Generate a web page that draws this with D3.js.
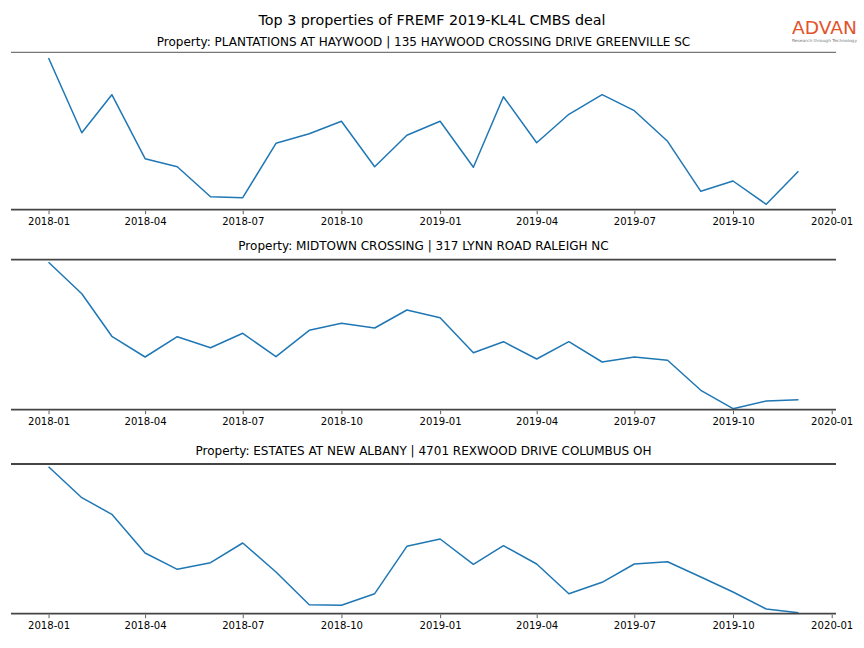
<!DOCTYPE html>
<html>
<head>
<meta charset="utf-8">
<script src="https://cdn.jsdelivr.net/npm/d3@7"></script>
<style>
  body { margin: 0; background: #fff; }
  svg { display: block; }
  text { font-family: "DejaVu Sans", sans-serif; }
</style>
</head>
<body>
<svg id="chart" width="864" height="648"></svg>
<script>
// ---- data ----
const months = ["2018-01","2018-02","2018-03","2018-04","2018-05","2018-06","2018-07","2018-08","2018-09","2018-10","2018-11","2018-12",
                "2019-01","2019-02","2019-03","2019-04","2019-05","2019-06","2019-07","2019-08","2019-09","2019-10","2019-11","2019-12"];
const titles = [
  "Property: PLANTATIONS AT HAYWOOD | 135 HAYWOOD CROSSING DRIVE GREENVILLE SC",
  "Property: MIDTOWN CROSSING | 317 LYNN ROAD RALEIGH NC",
  "Property: ESTATES AT NEW ALBANY | 4701 REXWOOD DRIVE COLUMBUS OH"
];
const seriesHaywood = [151.7, 77, 115, 51, 43, 13, 12, 66.4, 76, 88.4, 43, 74.4, 88.4, 42.4, 113, 67, 95.4, 115, 99, 68.4, 18.4, 28.7, 5.4, 38.4];
const seriesMidtown = [147.4, 116, 73.4, 52.7, 73, 62, 76.4, 53, 79.4, 86.4, 81.7, 99.7, 92, 57, 68, 50.7, 68, 47.7, 52.7, 49.4, 19.4, 1, 8.7, 10];
const seriesAlbany  = [147, 116, 99.4, 60.7, 44.4, 51, 70.7, 41.7, 9, 8.4, 20, 67.4, 74.7, 49.4, 68, 49.7, 20, 31.4, 49.7, 52, 36.7, 21.7, 4.7, 1];
const yMax = [157.4, 150, 149.7];
const mainTitle = "Top 3 properties of FREMF 2019-KL4L CMBS deal";

// ---- layout ----
const svg = d3.select("#chart");
const parse = d3.timeParse("%Y-%m");
const dates = months.map(parse);
const panels = [
  {top: 52.3, bottom: 209.7, values: seriesHaywood, title: titles[0], topW: 1, topC: "#555", tpad: 6},
  {top: 259.7, bottom: 409.7, values: seriesMidtown, title: titles[1], topW: 1.8, topC: "#444", tpad: 9.5},
  {top: 464, bottom: 613.7, values: seriesAlbany, title: titles[2], topW: 1.8, topC: "#444", tpad: 9.5}
];
const left = 11, right = 836;

const x = d3.scaleTime()
  .domain([d3.timeDay.offset(dates[0], -35), d3.timeDay.offset(dates[dates.length - 1], 35)])
  .range([left, right]);

svg.append("text")
  .attr("x", 432).attr("y", 24.5)
  .attr("text-anchor", "middle")
  .attr("font-size", 14.3)
  .attr("fill", "#000")
  .text(mainTitle);

panels.forEach((p, i) => {
  const y = d3.scaleLinear().domain([0, yMax[i]]).range([p.bottom, p.top]);
  const g = svg.append("g");

  g.append("text")
    .attr("x", (left + right) / 2).attr("y", p.top - p.tpad)
    .attr("text-anchor", "middle")
    .attr("font-size", 12)
    .attr("fill", "#000")
    .text(p.title);

  // x axis
  const axis = d3.axisBottom(x)
    .ticks(d3.timeMonth.every(3))
    .tickFormat(d3.timeFormat("%Y-%m"))
    .tickSizeInner(3.5).tickSizeOuter(0).tickPadding(3.5);
  const ag = g.append("g").attr("transform", `translate(0,${p.bottom + 1})`).call(axis);
  ag.select(".domain").remove();
  ag.selectAll(".tick line").attr("stroke", "#333").attr("stroke-width", 0.8);
  ag.selectAll(".tick text").attr("font-size", 10.1).attr("fill", "#000")
    .attr("font-family", "DejaVu Sans, sans-serif");

  // line
  const line = d3.line().x((d, j) => x(dates[j])).y(d => y(d));
  g.append("path")
    .datum(p.values)
    .attr("d", line)
    .attr("fill", "none")
    .attr("stroke", "#1f77b4")
    .attr("stroke-width", 1.5)
    .attr("stroke-linejoin", "round");

  // spines
  g.append("line").attr("x1", left).attr("x2", right).attr("y1", p.top).attr("y2", p.top)
    .attr("stroke", p.topC).attr("stroke-width", p.topW);
  g.append("line").attr("x1", left).attr("x2", right).attr("y1", p.bottom).attr("y2", p.bottom)
    .attr("stroke", "#444").attr("stroke-width", 1.8);
});

// logo
svg.append("text")
  .attr("x", 792).attr("y", 33.5)
  .attr("font-family", "Liberation Sans, Arial, sans-serif")
  .attr("font-size", 18.5)
  .attr("fill", "#e2532b")
  .attr("textLength", 65).attr("lengthAdjust", "spacingAndGlyphs")
  .text("ADVAN");
svg.append("text")
  .attr("x", 792).attr("y", 41.5)
  .attr("font-family", "Liberation Sans, Arial, sans-serif")
  .attr("font-size", 4)
  .attr("fill", "#777")
  .attr("textLength", 65).attr("lengthAdjust", "spacingAndGlyphs")
  .text("Research through Technology");
</script>
</body>
</html>
